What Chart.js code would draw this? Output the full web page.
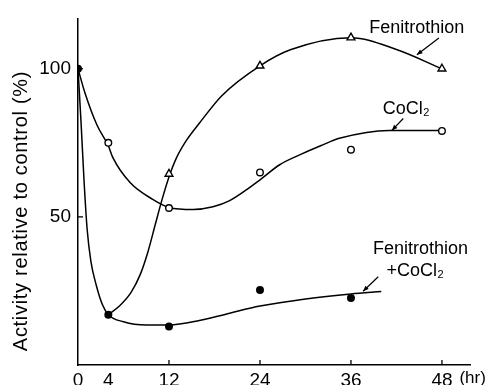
<!DOCTYPE html>
<html>
<head>
<meta charset="utf-8">
<script src="https://cdn.jsdelivr.net/npm/chart.js@4.4.0/dist/chart.umd.min.js"></script>
<style>
  html, body { margin: 0; padding: 0; background: #fff; }
  #wrap { width: 487px; height: 385px; }
</style>
</head>
<body>
<div id="wrap"><canvas id="canvasID" width="487" height="385"></canvas></div>
<script>
// x ticks (hr) and y ticks (%)
const xTicks = [0, 4, 12, 24, 36, 48]
const yTicks = [50, 100]

// measured points
const fenitrothionPts = [[12, 64.5], [24, 101], [36, 110.5], [48, 100]]
const cocl2Pts = [[4, 75], [12, 53], [24, 65], [36, 72.7], [48, 79]]
const comboPts = [[0, 100], [4, 17], [12, 13], [24, 25.3], [36, 22.6]]

// hand-drawn fitted curves
const fenitrothionCurve = [
  [4, 17], [5.5, 20], [7, 24.5], [8.2, 30.5], [9.2, 38], [10.2, 47.5], [11.1, 56],
  [12, 63.5], [13, 70], [14.3, 75.8], [16, 81.6], [19, 91], [24, 101],
  [28, 106.4], [36, 110.5], [42, 106.5], [48, 100],
]
const cocl2Curve = [
  [0, 100], [0.9, 92], [2.5, 81], [4, 74], [4.6, 70], [6.9, 61.5], [9.8, 56],
  [12, 53.2], [15.2, 52.5], [17.8, 53.4], [20, 55.5], [22.3, 59.3], [24, 62.5],
  [26.6, 67.6], [29.3, 71], [32, 74], [34.6, 76.6], [41, 79.2], [48, 79.2],
]
const comboCurve = [
  [0, 100], [0.4, 82], [0.8, 62], [1.2, 46], [1.7, 35], [2.4, 27], [3.2, 20.5],
  [4, 17], [6, 14.6], [9, 13.5], [12, 13.5], [16, 15], [20, 17.5], [24, 19.9],
  [30, 22.3], [36, 24], [40, 24.8],
]

// labels with arrows (data units)
const labels = [
  { text: 'Fenitrothion', x: 38.4, y: 113.7 },
  { text: 'CoCl', sub: '2', x: 40.2, y: 86.5 },
  { text: 'Fenitrothion', x: 38.9, y: 39.1 },
  { text: '+CoCl', sub: '2', x: 40.7, y: 31.8 },
]
const arrows = [
  [47.6, 110.4, 44.7, 104.7],
  [42.9, 83.2, 41.4, 79.2],
  [39.6, 29.8, 37.6, 24.9],
]

const toXY = (arr) => arr.map((p) => ({ x: p[0], y: p[1] }))
const FONT = "'Liberation Sans', Arial, sans-serif"

Chart.defaults.font.family = FONT
Chart.defaults.color = '#000'

////////////////////////////////////////////
// annotations: inward ticks, labels, arrows, (hr)
////////////////////////////////////////////
const extras = {
  id: 'extras',
  afterDatasetsDraw(chart) {
    const { ctx, chartArea } = chart
    const xs = chart.scales.x
    const ys = chart.scales.y
    ctx.save()
    ctx.strokeStyle = '#000'
    ctx.fillStyle = '#000'
    ctx.lineWidth = 1.3

    // inward tick marks
    yTicks.forEach((v) => {
      const py = ys.getPixelForValue(v)
      ctx.beginPath()
      ctx.moveTo(chartArea.left, py)
      ctx.lineTo(chartArea.left + 5, py)
      ctx.stroke()
    })
    xTicks.filter((v) => v >= 12).forEach((v) => {
      const px = xs.getPixelForValue(v)
      ctx.beginPath()
      ctx.moveTo(px, chartArea.bottom)
      ctx.lineTo(px, chartArea.bottom - 5)
      ctx.stroke()
    })

    // text labels
    ctx.textBaseline = 'middle'
    ctx.textAlign = 'left'
    labels.forEach((l) => {
      const px = xs.getPixelForValue(l.x)
      const py = ys.getPixelForValue(l.y)
      ctx.font = '18px ' + FONT
      ctx.fillText(l.text, px, py)
      if (l.sub) {
        const w = ctx.measureText(l.text).width
        ctx.font = '11px ' + FONT
        ctx.fillText(l.sub, px + w + 0.5, py + 4)
      }
    })

    // arrows, head at the second point
    arrows.forEach((a) => {
      const x1 = xs.getPixelForValue(a[0])
      const y1 = ys.getPixelForValue(a[1])
      const x2 = xs.getPixelForValue(a[2])
      const y2 = ys.getPixelForValue(a[3])
      const ang = Math.atan2(y2 - y1, x2 - x1)
      ctx.lineWidth = 1.2
      ctx.beginPath()
      ctx.moveTo(x1, y1)
      ctx.lineTo(x2, y2)
      ctx.stroke()
      const h = 6
      ctx.beginPath()
      ctx.moveTo(x2, y2)
      ctx.lineTo(x2 - h * Math.cos(ang - 0.4), y2 - h * Math.sin(ang - 0.4))
      ctx.lineTo(x2 - h * Math.cos(ang + 0.4), y2 - h * Math.sin(ang + 0.4))
      ctx.closePath()
      ctx.fill()
    })

    // unit after the last x label
    ctx.font = '17px ' + FONT
    ctx.textBaseline = 'top'
    ctx.fillText('(hr)', xs.getPixelForValue(50.3), chartArea.bottom + 5)

    // y axis title
    ctx.translate(21, 211)
    ctx.rotate(-Math.PI / 2)
    ctx.textAlign = 'center'
    ctx.textBaseline = 'middle'
    ctx.font = '20px ' + FONT
    ctx.letterSpacing = '0.7px'
    ctx.fillText('Activity relative to control (%)', 0, 0)
    ctx.restore()
  },
}

const lineStyle = {
  showLine: true,
  borderColor: '#000',
  borderWidth: 1.5,
  pointRadius: 0,
  cubicInterpolationMode: 'monotone',
}

new Chart(document.getElementById('canvasID'), {
  type: 'scatter',
  data: {
    datasets: [
      {
        data: toXY(fenitrothionPts),
        pointStyle: 'triangle',
        pointRadius: 4.5,
        backgroundColor: '#fff',
        borderColor: '#000',
        borderWidth: 1.4,
      },
      {
        data: toXY(cocl2Pts),
        pointStyle: 'circle',
        pointRadius: 3.3,
        backgroundColor: '#fff',
        borderColor: '#000',
        borderWidth: 1.4,
      },
      {
        data: toXY(comboPts),
        pointStyle: 'circle',
        pointRadius: 4,
        backgroundColor: '#000',
        borderColor: '#000',
        borderWidth: 0,
      },
      { data: toXY(fenitrothionCurve), ...lineStyle },
      { data: toXY(cocl2Curve), ...lineStyle },
      { data: toXY(comboCurve), ...lineStyle },
    ],
  },
  options: {
    responsive: false,
    animation: false,
    layout: { padding: { top: 13, right: 17, left: 0, bottom: 0 } },
    plugins: {
      legend: { display: false },
      tooltip: { enabled: false },
    },
    scales: {
      x: {
        type: 'linear',
        min: 0,
        max: 51.7,
        afterBuildTicks: (s) => { s.ticks = xTicks.map((v) => ({ value: v })) },
        afterFit: (s) => { s.height = 20 },
        grid: { display: true, drawOnChartArea: false, drawTicks: false },
        border: { display: true, color: '#000', width: 1.5 },
        ticks: { font: { size: 19 }, padding: 4, maxRotation: 0, color: '#000' },
      },
      y: {
        type: 'linear',
        min: 0,
        max: 117,
        afterBuildTicks: (s) => { s.ticks = yTicks.map((v) => ({ value: v })) },
        afterFit: (s) => { s.width = 78 },
        grid: { display: true, drawOnChartArea: false, drawTicks: false },
        border: { display: true, color: '#000', width: 1.5 },
        ticks: { font: { size: 19 }, padding: 7, color: '#000' },
      },
    },
  },
  plugins: [extras],
})
</script>
</body>
</html>
